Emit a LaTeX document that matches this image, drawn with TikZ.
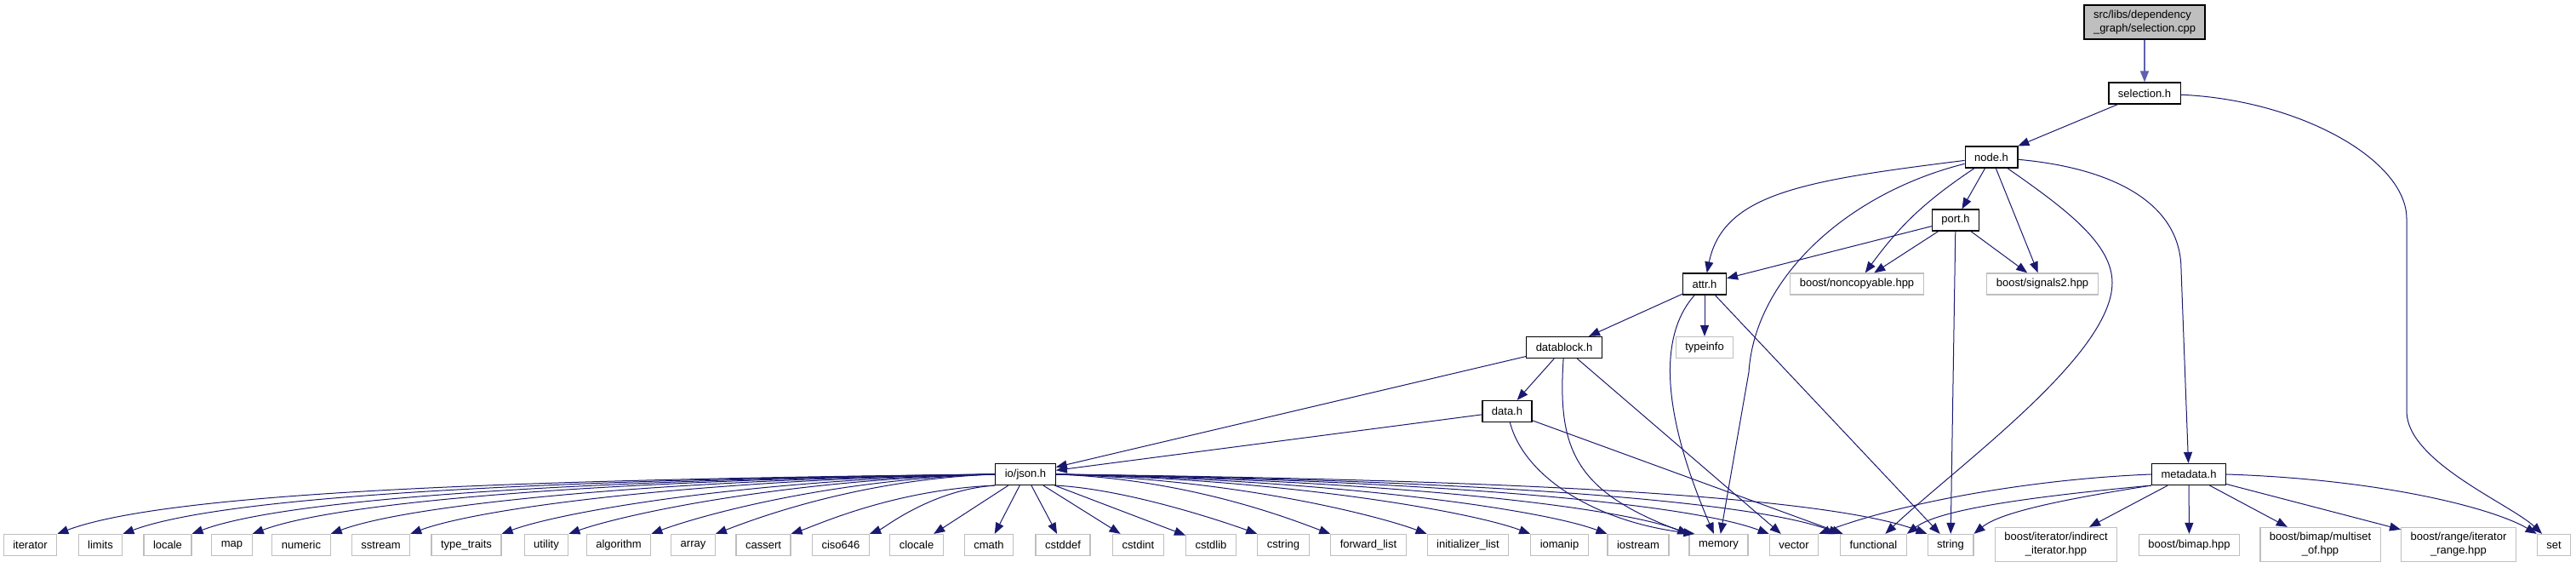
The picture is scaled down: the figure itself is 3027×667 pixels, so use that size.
\documentclass[tikz,border=0pt]{standalone}
\usepackage{fontspec}
\setmainfont{Liberation Sans}
\usetikzlibrary{arrows.meta}
\definecolor{edgeblue}{RGB}{25,25,112}
\definecolor{edgelight}{RGB}{96,96,176}
\definecolor{boxgray}{RGB}{191,191,191}
\begin{document}
\begin{tikzpicture}[x=0.5pt, y=0.5pt, >={Triangle[length=6.5pt,width=5pt]},
  box/.style={rectangle, inner xsep=5.5pt, inner ysep=3pt, minimum height=12.5pt,
    font=\fontsize{6.5}{8}\selectfont, fill=white},
  cur/.style={box, draw=black, fill=boxgray, line width=0.6pt, align=left},
  hdr/.style={box, draw=black, line width=0.6pt},
  ext/.style={box, draw=boxgray, line width=0.6pt, align=center},
  dep/.style={->, draw=edgeblue, line width=0.5pt}]
  % include graph of selection.cpp
  \useasboundingbox (0,0) rectangle (3027,667);
  \node[cur] (selcpp) at (2520,641) {src/libs/dependency\\\_graph/selection.cpp};
  \node[hdr] (selh) at (2520,557.5) {selection.h};
  \node[hdr] (nodeh) at (2340,482.5) {node.h};
  \node[hdr] (porth) at (2298,408.5) {port.h};
  \node[hdr] (attrh) at (2003,333.5) {attr.h};
  \node[ext] (noncopy) at (2182,333.5) {boost/noncopyable.hpp};
  \node[ext] (signals) at (2400,333.5) {boost/signals2.hpp};
  \node[ext] (typeinfo) at (2003,259) {typeinfo};
  \node[hdr] (datablock) at (1838,259) {datablock.h};
  \node[hdr] (datah) at (1771,184) {data.h};
  \node[hdr] (json) at (1205,110) {io/json.h};
  \node[hdr] (metadata) at (2572,110) {metadata.h};

  \node[ext] (iterator) at (35.5,27) {iterator};
  \node[ext] (limits) at (118,27) {limits};
  \node[ext] (locale) at (197,27) {locale};
  \node[ext] (map) at (272.5,27) {map};
  \node[ext] (numeric) at (354,27) {numeric};
  \node[ext] (sstream) at (447.5,27) {sstream};
  \node[ext] (typetraits) at (548,27) {type\_traits};
  \node[ext] (utility) at (642,27) {utility};
  \node[ext] (algorithm) at (727,27) {algorithm};
  \node[ext] (array) at (814.5,27) {array};
  \node[ext] (cassert) at (897,27) {cassert};
  \node[ext] (ciso) at (988,27) {ciso646};
  \node[ext] (clocale) at (1077,27) {clocale};
  \node[ext] (cmath) at (1162,27) {cmath};
  \node[ext] (cstddef) at (1249,27) {cstddef};
  \node[ext] (cstdint) at (1337.5,27) {cstdint};
  \node[ext] (cstdlib) at (1423,27) {cstdlib};
  \node[ext] (cstring) at (1508,27) {cstring};
  \node[ext] (fwdlist) at (1608,27) {forward\_list};
  \node[ext] (initlist) at (1725,27) {initializer\_list};
  \node[ext] (iomanip) at (1832.5,27) {iomanip};
  \node[ext] (iostream) at (1925,27) {iostream};
  \node[ext] (memory) at (2019.5,27) {memory};
  \node[ext] (vector) at (2108,27) {vector};
  \node[ext] (functional) at (2201.5,27) {functional};
  \node[ext] (string) at (2292,27) {string};
  \node[ext] (indirect) at (2416,27.5) {boost/iterator/indirect\\\_iterator.hpp};
  \node[ext] (bimap) at (2572.5,27) {boost/bimap.hpp};
  \node[ext] (multiset) at (2726.5,27.5) {boost/bimap/multiset\\\_of.hpp};
  \node[ext] (range) at (2889,27.5) {boost/range/iterator\\\_range.hpp};
  \node[ext] (set) at (3001,27) {set};

  \draw[dep, draw=edgelight, line width=0.7pt] (selcpp) -- (selh);
  \draw[dep] (selh) -- (nodeh);
  \draw[dep] (selh) .. controls (2700,550) and (2828,480) .. (2828,410) -- (2828,184)
    .. controls (2828,125) and (2950,75) .. (set);

  \draw[dep] (nodeh) .. controls (2120,455) and (2025,440) .. (attrh);
  \draw[dep] (nodeh) .. controls (2170,440) and (2062,340) .. (2055,230) -- (memory);
  \draw[dep] (nodeh) to[bend right=10] (noncopy);
  \draw[dep] (nodeh) -- (porth);
  \draw[dep] (nodeh) -- (signals);
  \draw[dep] (nodeh) .. controls (2430,420) and (2482,380) .. (2482,335)
    .. controls (2482,250) and (2300,120) .. (functional);
  \draw[dep] (nodeh) .. controls (2480,470) and (2563,430) .. (2563,350) -- (metadata);

  \draw[dep] (porth) -- (attrh);
  \draw[dep] (porth) -- (noncopy);
  \draw[dep] (porth) -- (signals);
  \draw[dep] (porth) -- (string);

  \draw[dep] (attrh) -- (datablock);
  \draw[dep] (attrh) -- (typeinfo);
  \draw[dep] (attrh) .. controls (1955,280) and (1945,200) .. (memory);
  \draw[dep] (attrh) -- (string);

  \draw[dep] (datablock) -- (json);
  \draw[dep] (datablock) -- (datah);
  \draw[dep] (datablock) .. controls (1830,140) and (1850,90) .. (memory.160);
  \draw[dep] (datablock) -- (vector);

  \draw[dep] (datah) -- (json);
  \draw[dep] (datah) .. controls (1790,110) and (1870,55) .. (memory.155);
  \draw[dep] (datah) -- (functional);

  \draw[dep] (json.west) .. controls (618,104) and (199,89.6) .. (iterator.north east);
  \draw[dep] (json.west) .. controls (657,104) and (268,86) .. (limits.north east);
  \draw[dep] (json.west) .. controls (697,104) and (338,82.5) .. (locale.north east);
  \draw[dep] (json.west) .. controls (733,104) and (401,79.3) .. (map.north east);
  \draw[dep] (json.west) .. controls (779,104) and (482,75.2) .. (numeric.north east);
  \draw[dep] (json.west) .. controls (826,104) and (564.5,71) .. (sstream.north east);
  \draw[dep] (json.west) .. controls (879,104) and (659,66) .. (typetraits.north east);
  \draw[dep] (json.west) .. controls (920,104) and (731,62.4) .. (utility.north east);
  \draw[dep] (json.west) .. controls (967,104) and (813,58.2) .. (algorithm.north east);
  \draw[dep] (json.west) .. controls (1005,104) and (879.5,54.8) .. (array.north east);
  \draw[dep] (json.south west) .. controls (1050,92) and (959,50) .. (cassert.north east);
  \draw[dep] (json.south west) .. controls (1095,92) and (1039,47) .. (ciso.north east);
  \draw[dep] (json) -- (clocale);
  \draw[dep] (json) -- (cmath);
  \draw[dep] (json) -- (cstddef);
  \draw[dep] (json) -- (cstdint);
  \draw[dep] (json) -- (cstdlib);
  \draw[dep] (json.south east) .. controls (1330,92) and (1450,50) .. (cstring.north west);
  \draw[dep] (json.east) .. controls (1402,104) and (1524,54.5) .. (fwdlist.north west);
  \draw[dep] (json.east) .. controls (1459,104) and (1625,59.6) .. (initlist.north west);
  \draw[dep] (json.east) .. controls (1520,104) and (1732,65) .. (iomanip.north west);
  \draw[dep] (json.east) .. controls (1565,104) and (1811,69) .. (iostream.north west);
  \draw[dep] (json.east) .. controls (1613,104) and (1896,73.5) .. (memory.north west);
  \draw[dep] (json.east) .. controls (1660,104) and (1978,77.7) .. (vector.north west);
  \draw[dep] (json.east) .. controls (1701,104) and (2051,81.5) .. (functional.north west);
  \draw[dep] (json.east) .. controls (1752,104) and (2141,86) .. (string.north west);

  \draw[dep] (metadata.west) .. controls (2380,104) and (2230,75) .. (vector.north east);
  \draw[dep] (metadata.south west) .. controls (2400,85) and (2280,70) .. (functional.north east);
  \draw[dep] (metadata.south west) .. controls (2420,80) and (2350,65) .. (string.north east);
  \draw[dep] (metadata) -- (indirect);
  \draw[dep] (metadata) -- (bimap);
  \draw[dep] (metadata) -- (multiset);
  \draw[dep] (metadata) -- (range);
  \draw[dep] (metadata.east) .. controls (2800,104) and (2930,70) .. (set.north west);
\end{tikzpicture}
\end{document}
